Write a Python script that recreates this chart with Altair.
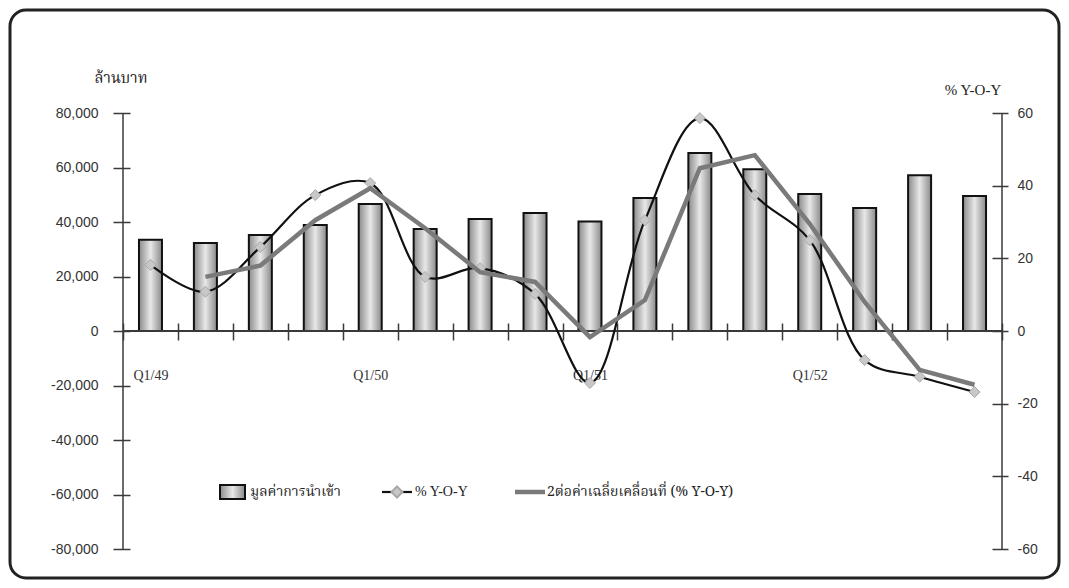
import altair as alt
import pandas as pd

quarters = ["Q1/49", "Q2/49", "Q3/49", "Q4/49",
            "Q1/50", "Q2/50", "Q3/50", "Q4/50",
            "Q1/51", "Q2/51", "Q3/51", "Q4/51",
            "Q1/52", "Q2/52", "Q3/52", "Q4/52"]
imports = [33500, 32300, 35200, 38900, 46600, 37400, 41100, 43300,
           40200, 48800, 65300, 59400, 50300, 45100, 57200, 49500]
yoy = [18.2, 10.8, 23.1, 37.4, 40.7, 14.9, 17.3, 10.2,
       -14.3, 30.5, 58.6, 37.4, 25.0, -8.0, -12.6, -16.8]
ma2 = [None, 14.9, 18.0, 30.5, 39.3, 28.3, 16.2, 13.5,
       -1.7, 8.5, 44.8, 48.4, 29.5, 8.0, -10.7, -14.8]
shown_labels = ["Q1/49", "Q1/50", "Q1/51", "Q1/52"]

left_title = "ล้านบาท"
right_title = "% Y-O-Y"
legend_bar = "มูลค่าการนำเข้า"
legend_yoy = "% Y-O-Y"
legend_ma = "2ต่อค่าเฉลี่ยเคลื่อนที่ (% Y-O-Y)"

df = pd.DataFrame({"q": quarters, "imp": imports, "yoy": yoy, "ma": ma2})

W, H = 879, 436
THAI = "Noto Serif Thai, Noto Sans Thai, Loma, Garuda, Noto Sans, sans-serif"
NUM = "Liberation Sans"
SERIF = "Liberation Serif"
AX = "#3a3a3a"

xenc = alt.X("q:N", sort=quarters, title=None,
             scale=alt.Scale(paddingInner=0, paddingOuter=0),
             axis=alt.Axis(orient="bottom", offset=-226, domain=False,
                           tickBand="extent", tickSize=17, tickColor=AX, tickWidth=1.5,
                           labelAngle=0, labelPadding=28, labelFont=SERIF, labelFontSize=14,
                           labelColor="#333333",
                           labelExpr="indexof(" + str(shown_labels) + ", datum.value) >= 0 ? datum.value : ''"))

grad = alt.Gradient(gradient="linear",
                    stops=[alt.GradientStop(color="#8a8a8a", offset=0),
                           alt.GradientStop(color="#e8e8e8", offset=0.5),
                           alt.GradientStop(color="#8a8a8a", offset=1)],
                    x1=0, x2=1, y1=0, y2=0)

lscale = alt.Scale(domain=[-80000, 80000], nice=False)
left_axis = alt.Axis(orient="left", offset=-7, domain=False, grid=False,
                     values=list(range(-80000, 80001, 20000)),
                     labelExpr="(datum.value < 0 ? '-' : '') + format(abs(datum.value), ',.0f')",
                     tickSize=17, tickColor=AX, tickWidth=1.5,
                     labelPadding=15, labelFont=NUM, labelFontSize=14, labelColor="#333333")

bars = alt.Chart(df).mark_bar(size=23, color=grad, stroke="#111111", strokeWidth=2).encode(
    x=xenc, y=alt.Y("imp:Q", title=None, scale=lscale, axis=left_axis))

zero = alt.Chart(df).mark_rule(color=AX, strokeWidth=1.5).encode(
    y=alt.Y(datum=0, scale=lscale, axis=left_axis, title=None),
    x=alt.value(0), x2=alt.value(W))

left = alt.layer(bars, zero)

right_axis = alt.Axis(orient="right", offset=-10, domain=False, grid=False,
                      values=list(range(-60, 61, 20)),
                      labelExpr="(datum.value < 0 ? '-' : '') + format(abs(datum.value), '.0f')",
                      tickSize=16, tickColor=AX, tickWidth=1.5,
                      labelPadding=9, labelFont=NUM, labelFontSize=14, labelColor="#333333")
rscale = alt.Scale(domain=[-60, 60], nice=False)

yoy_line = alt.Chart(df).mark_line(color="#111111", strokeWidth=2.2, interpolate="catmull-rom").encode(
    x=alt.X("q:N", sort=quarters),
    y=alt.Y("yoy:Q", title=None, scale=rscale, axis=right_axis))
yoy_pts = alt.Chart(df).mark_point(shape="diamond", size=120, filled=True, fill="#c8c8c8",
                                   stroke="#a8a8a8", strokeWidth=1, opacity=1).encode(
    x=alt.X("q:N", sort=quarters),
    y=alt.Y("yoy:Q", title=None, scale=rscale, axis=right_axis))
ma_line = alt.Chart(df).transform_filter("isValid(datum.ma)").mark_line(
    color="#7a7a7a", strokeWidth=4.5).encode(
    x=alt.X("q:N", sort=quarters),
    y=alt.Y("ma:Q", title=None, scale=rscale, axis=right_axis))

right = alt.layer(yoy_line, yoy_pts, ma_line)

one = alt.Data(values=[{"a": 1}])

def vrule(xpx):
    return alt.Chart(one).mark_rule(color=AX, strokeWidth=1.5).encode(
        x=alt.value(xpx), y=alt.value(0), y2=alt.value(H))

frame = alt.Chart(one).mark_rect(fill="transparent", stroke="#222222", strokeWidth=3,
                                 cornerRadius=16).encode(
    x=alt.value(-113), x2=alt.value(936), y=alt.value(-103), y2=alt.value(465))

def txt(s, x, y, font, size, align="left"):
    return alt.Chart(one).mark_text(text=s, font=font, fontSize=size, align=align,
                                    baseline="middle", color="#222222").encode(
        x=alt.value(x), y=alt.value(y))

leg_y = 379
leg_swatch = alt.Chart(one).mark_rect(color=grad, stroke="#111111", strokeWidth=2).encode(
    x=alt.value(97), x2=alt.value(122), y=alt.value(leg_y - 7), y2=alt.value(leg_y + 7))
leg_l1 = alt.Chart(one).mark_rule(color="#111111", strokeWidth=2.2).encode(
    x=alt.value(259), x2=alt.value(289), y=alt.value(leg_y))
leg_d = alt.Chart(one).mark_point(shape="diamond", size=120, filled=True, fill="#c8c8c8",
                                  stroke="#a8a8a8", opacity=1).encode(
    x=alt.value(274), y=alt.value(leg_y))
leg_l2 = alt.Chart(one).mark_rule(color="#7a7a7a", strokeWidth=4.5).encode(
    x=alt.value(392), x2=alt.value(422), y=alt.value(leg_y))

deco = alt.layer(
    frame, vrule(0), vrule(W),
    txt(left_title, -2, -35, THAI, 15, "center"),
    txt(right_title, 850, -23, SERIF, 15, "center"),
    leg_swatch, txt(legend_bar, 127, leg_y, THAI, 14),
    leg_l1, leg_d, txt(legend_yoy, 292, leg_y, SERIF, 14),
    leg_l2, txt(legend_ma, 424, leg_y, THAI, 14),
)

chart = alt.layer(left, right, deco).resolve_scale(y="independent").properties(
    width=W, height=H,
    autosize=alt.AutoSizeParams(type="none"),
    padding={"left": 115, "top": 105, "right": 59, "bottom": 31},
    background="white",
).configure_view(stroke=None)

chart.save("out.html", embed_options={"renderer": "svg", "actions": False})
